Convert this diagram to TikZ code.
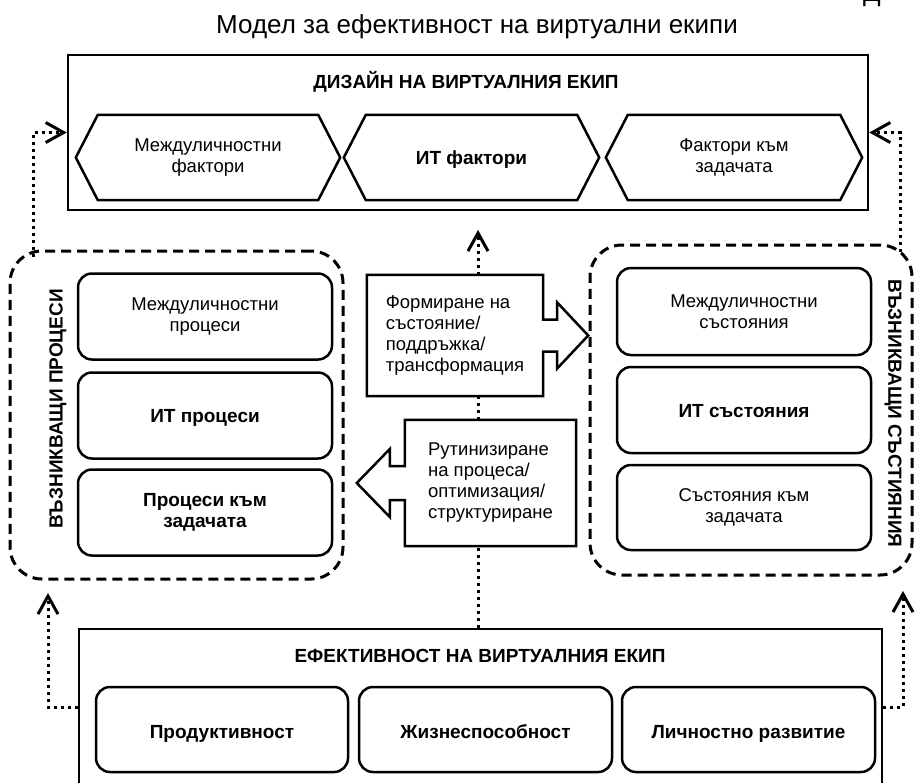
\documentclass[tikz,border=0pt]{standalone}
\usepackage{fontspec}
\setmainfont{Liberation Sans}
\usetikzlibrary{arrows.meta,calc}
\begin{document}
\begin{tikzpicture}[x=1pt,y=-1pt,
  txt/.style={font=\fontsize{18.5}{21}\selectfont},
  btxt/.style={font=\fontsize{19}{21.5}\selectfont\bfseries},
  oneline/.style={text height=15.6pt, text depth=1pt},
  onelow/.style={text height=18.6pt, text depth=1pt},
  boxline/.style={line width=2.5pt},
  solidbox/.style={draw, boxline, inner sep=0pt},
  roundbox/.style={draw, boxline, rounded corners=14pt, inner sep=0pt, align=center},
  hexn/.style={minimum height=85pt, inner sep=0pt, align=center},
  grp/.style={draw, line width=3pt, dash pattern=on 10pt off 6pt, rounded corners=32pt, inner sep=0pt},
  midtext/.style={txt, align=left, inner sep=0pt},
  dotline/.style={line width=3pt, dash pattern=on 3pt off 4pt},
  chev/.style={-{Straight Barb[length=18pt,width=20pt]}},
]
\useasboundingbox (0,0) rectangle (917,782);

% title
\node[anchor=base, font=\fontsize{26}{30}\selectfont] (title) at (477,33) {Модел за ефективност на виртуални екипи};
\node[anchor=base, font=\fontsize{26}{30}\selectfont] (corner) at (872,1) {Д};

% top box
\node[solidbox, minimum width=800pt, minimum height=155pt] (design) at (468,132.5) {};
\node[btxt, anchor=base] (designT) at (466,88) {ДИЗАЙН НА ВИРТУАЛНИЯ ЕКИП};
\node[hexn, txt, minimum width=264pt] (h1) at (208,157.5) {Междуличностни\\фактори};
\node[hexn, btxt, oneline, minimum width=255pt] (h2) at (471.5,157.5) {ИТ фактори};
\node[hexn, txt, minimum width=256pt] (h3) at (734,157.5) {Фактори към\\задачата};
\foreach \h in {h1,h2,h3}
  \draw[boxline] (\h.west) -- ([xshift=22pt]\h.north west) -- ([xshift=-22pt]\h.north east)
     -- (\h.east) -- ([xshift=-22pt]\h.south east) -- ([xshift=22pt]\h.south west) -- cycle;

% left group
\node[grp, minimum width=333pt, minimum height=328pt] (lgrp) at (176.5,415) {};
\node[btxt, rotate=90] (lgrpT) at (58,409) {ВЪЗНИКВАЩИ ПРОЦЕСИ};
\node[roundbox, txt, minimum width=254pt, minimum height=86pt] (lp1) at (205,316.5) {Междуличностни\\процеси};
\node[roundbox, btxt, oneline, minimum width=254pt, minimum height=86pt] (lp2) at (205,415.5) {ИТ процеси};
\node[roundbox, btxt, minimum width=254pt, minimum height=86pt] (lp3) at (205,512.5) {Процеси към\\задачата};

% right group
\node[grp, minimum width=322pt, minimum height=330pt] (rgrp) at (751,410) {};
\node[btxt, rotate=-90] (rgrpT) at (893,413.5) {ВЪЗНИКВАЩИ СЪСТИЯНИЯ};
\node[roundbox, txt, minimum width=254pt, minimum height=87pt] (rs1) at (744,311.5) {Междуличностни\\състояния};
\node[roundbox, btxt, oneline, minimum width=254pt, minimum height=86pt] (rs2) at (744,410) {ИТ състояния};
\node[roundbox, txt, minimum width=254pt, minimum height=85pt] (rs3) at (744,507.5) {Състояния към\\задачата};

% middle arrow boxes
\node[midtext, minimum width=176pt, minimum height=121pt] (form) at (455,335.5) {Формиране на\\състояние/\\поддръжка/\\трансформация};
\draw[boxline] (form.north west) -- (form.north east) -- ($(form.east)+(0,-16)$) -- ++(14,0) -- ++(0,-17)
   -- ++(31,33) -- ++(-31,33) -- ++(0,-17) -- ++(-14,0) -- (form.south east) -- (form.south west) -- cycle;
\node[midtext, minimum width=171pt, minimum height=126pt] (rout) at (490.5,483) {Рутинизиране\\на процеса/\\оптимизация/\\структуриране};
\draw[boxline] (rout.north east) -- (rout.north west) -- ($(rout.west)+(0,-17)$) -- ++(-15,0) -- ++(0,-17)
   -- ++(-33,34) -- ++(33,34) -- ++(0,-17) -- ++(15,0) -- (rout.south west) -- (rout.south east) -- cycle;

% bottom box
\node[solidbox, minimum width=803pt, minimum height=156pt] (bot) at (480.5,707) {};
\node[btxt, anchor=base] (botT) at (480,662) {ЕФЕКТИВНОСТ НА ВИРТУАЛНИЯ ЕКИП};
\node[roundbox, btxt, onelow, minimum width=252pt, minimum height=85pt] (b1) at (222,729.5) {Продуктивност};
\node[roundbox, btxt, onelow, minimum width=253pt, minimum height=85pt] (b2) at (485.5,729.5) {Жизнеспособност};
\node[roundbox, btxt, onelow, minimum width=253pt, minimum height=85pt] (b3) at (748.5,729.5) {Личностно развитие};

% connectors
\coordinate (lup) at (33,257);
\coordinate (rup) at (900,252);
\coordinate (lend) at (48,593);
\coordinate (rend) at (903,591);
\coordinate (cx) at (478,0);
\coordinate (ctop) at (478,230);
\draw[dotline, chev] (lup) |- (design.west);
\draw[dotline, chev] (rup) |- (design.east);
\draw[dotline, chev] (bot.west) -| (lend);
\draw[dotline, chev] (bot.east) -| (rend);
\draw[dotline] (bot.north -| cx) -- (rout.south -| cx);
\draw[dotline] (rout.north -| cx) -- (form.south -| cx);
\draw[dotline, chev] (form.north -| cx) -- (ctop);
\end{tikzpicture}
\end{document}
